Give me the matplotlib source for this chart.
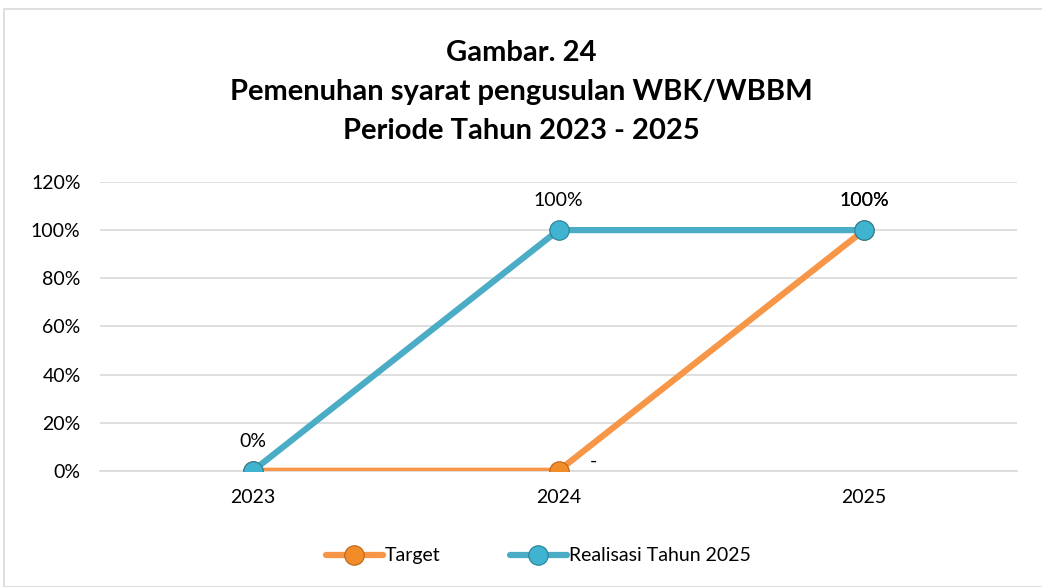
import matplotlib.pyplot as plt
from matplotlib.patches import Rectangle

years = ["2023", "2024", "2025"]
target = [0.0, 0.0, 1.0]
realisasi = [0.0, 1.0, 1.0]
target_labels = ["", "-", "100%"]
realisasi_labels = ["0%", "100%", "100%"]
yticks = [0, 0.2, 0.4, 0.6, 0.8, 1.0, 1.2]

plt.rcParams['font.family'] = ['Lato', 'DejaVu Sans']

orange = '#F79646'
blue = '#4BACC6'
fs = 14

fig = plt.figure(figsize=(10.42, 5.87), dpi=100)
ax = fig.add_axes([0.096, 0.198, 0.88, 0.492])

# light frame round the chart
fig.patches.append(Rectangle((4 / 1042, 0), 1.0, 1 - 9 / 587, transform=fig.transFigure,
                             fill=False, edgecolor='#d9d9d9', linewidth=1.2))

x = list(range(len(years)))
ax.plot(x, target, color=orange, linewidth=4.5, marker='o', markersize=14,
        markerfacecolor='#F28C28', markeredgecolor='#B8651A', markeredgewidth=0.8,
        label='Target', zorder=3, solid_capstyle='round')
ax.plot(x, realisasi, color=blue, linewidth=4.5, marker='o', markersize=14,
        markerfacecolor='#3FB3CF', markeredgecolor='#2A7F96', markeredgewidth=0.8,
        label='Realisasi Tahun 2025', zorder=4, solid_capstyle='round')

for i, lab in enumerate(realisasi_labels):
    ax.annotate(lab, (x[i], realisasi[i]), xytext=(0, 15), textcoords='offset points',
                ha='center', va='bottom', fontsize=fs)
for i, lab in enumerate(target_labels):
    if lab == "-":
        ax.annotate(lab, (x[i], target[i]), xytext=(25, 7), textcoords='offset points',
                    ha='center', va='center', fontsize=fs)
    elif lab:
        ax.annotate(lab, (x[i], target[i]), xytext=(0, 15), textcoords='offset points',
                    ha='center', va='bottom', fontsize=fs)

ax.set_xlim(-0.5, 2.5)
ax.set_ylim(0, 1.2)
ax.set_yticks(yticks)
ax.set_yticklabels([f"{int(round(v * 100))}%" for v in yticks])
ax.set_xticks(x)
ax.set_xticklabels(years)
ax.tick_params(axis='both', length=0, labelsize=fs)
ax.tick_params(axis='x', pad=13)
ax.tick_params(axis='y', pad=14)
ax.grid(axis='y', color='#d9d9d9', linewidth=1.2)
ax.set_axisbelow(True)
for s in ['top', 'right', 'left']:
    ax.spines[s].set_visible(False)
ax.spines['bottom'].set_color('#d9d9d9')
ax.spines['bottom'].set_linewidth(1.2)

fig.text(0.5, 1 - 40 / 587, "Gambar. 24\nPemenuhan syarat pengusulan WBK/WBBM\nPeriode Tahun 2023 - 2025",
         ha='center', va='top', fontsize=21, fontweight='bold', linespacing=1.62)

ax.legend(loc='upper center', bbox_to_anchor=(0.478, -0.205), ncol=2, frameon=False,
          fontsize=fs, handlelength=2.9, columnspacing=3.6, handletextpad=0.1)

fig.savefig('out.png', dpi=100)
